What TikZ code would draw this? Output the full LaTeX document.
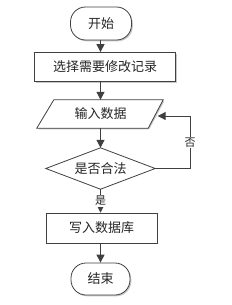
\documentclass[tikz,border=0pt]{standalone}
\usepackage{fontspec}
\newfontfamily\cjk{Noto Sans CJK SC}
\usetikzlibrary{arrows.meta,shadows}
\definecolor{edge}{HTML}{404040}
\tikzset{
  base/.style={draw=edge, line width=0.8pt, fill=white, inner sep=0pt, font=\cjk\fontsize{13}{15}\selectfont, text=black!85,
    drop shadow={shadow xshift=1.3pt, shadow yshift=-1.3pt, fill=black!22, opacity=1}},
  term/.style={base, rounded corners=15pt},
  procbox/.style={base},
  ghost/.style={inner sep=0pt, font=\cjk\fontsize{13}{15}\selectfont, text=black!85},
  flow/.style={draw=edge, line width=1pt, -{Triangle[length=8pt,width=8pt]}},
  lbl/.style={fill=white, inner sep=1pt, font=\cjk\fontsize{11}{13}\selectfont, text=black!85}
}
\begin{document}
\begin{tikzpicture}[x=1pt,y=-1pt]
\useasboundingbox (0,0) rectangle (231,305);
\node[term, minimum width=61pt, minimum height=33pt] (start) at (101,23.5) {开始};
\node[procbox, minimum width=141pt, minimum height=29pt] (sel) at (105,67) {选择需要修改记录};
% parallelogram
\fill[black!22] (54+1.3,100+1.3) -- (163+1.3,100+1.3) -- (148+1.3,128+1.3) -- (37+1.3,128+1.3) -- cycle;
\node[ghost, minimum width=110pt, minimum height=28pt] (in) at (100.5,114) {};
\draw[draw=edge, line width=0.8pt, fill=white]
  ([xshift=8.5pt]in.north west) -- ([xshift=7.5pt]in.north east) --
  ([xshift=-7.5pt]in.south east) -- ([xshift=-8.5pt]in.south west) -- cycle;
\node[ghost] at (in) {输入数据};
% diamond
\node[ghost, minimum width=109pt, minimum height=41pt] (dec) at (100.5,168.5) {};
\draw[draw=edge, line width=0.8pt, fill=white]
  (dec.north) -- (dec.east) -- (dec.south) -- (dec.west) -- cycle;
\node[ghost] at (dec) {是否合法};
\node[procbox, minimum width=111pt, minimum height=30pt] (wr) at (101.5,228) {写入数据库};
\node[term, minimum width=59pt, minimum height=32pt] (end) at (100.5,279) {结束};
% connectors
\draw[flow] (start.south -| 100.5,0) -- (100.5,0 |- sel.north);
\draw[flow] (sel.south -| 100.5,0) -- (100.5,0 |- in.north);
\draw[flow] (in.south -| 100.5,0) -- (100.5,0 |- dec.north);
\draw[flow] (dec.south) -- node[lbl, pos=0.5]{是} (wr.north -| dec.south);
\draw[flow] (wr.south -| 100.5,0) -- (100.5,0 |- end.north);
\coordinate (r1) at (190,168.5);
\coordinate (r2) at (190,116);
\draw[flow] (dec.east) -- (r1) -- node[lbl, pos=0.5]{否} (r2) -- ([xshift=2pt,yshift=-2pt]in.east);
\end{tikzpicture}
\end{document}
